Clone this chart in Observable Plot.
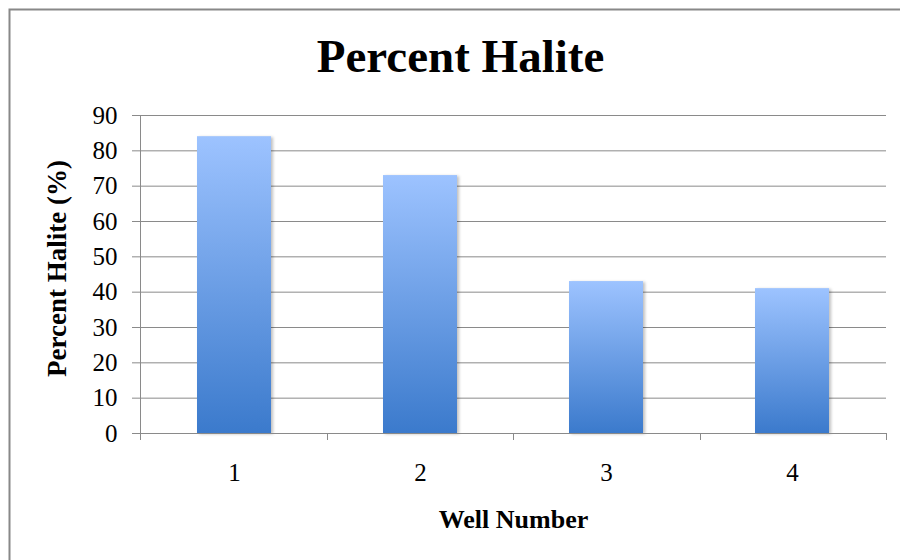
<!DOCTYPE html>
<html><head><meta charset="utf-8">
<script src="https://cdn.jsdelivr.net/npm/d3@7"></script>
<script src="https://cdn.jsdelivr.net/npm/@observablehq/plot@0.6"></script>
<style>
body{margin:0;background:#fff;}
#chart svg g[aria-label="bar"] rect{filter:drop-shadow(2px 1px 1.5px rgba(0,0,0,0.25));}
</style></head><body><div id="chart"></div>
<script>
const wells = ["1", "2", "3", "4"];
const halite = [84, 73, 43, 41];
const yTicks = [0, 10, 20, 30, 40, 50, 60, 70, 80, 90];
const titleText = "Percent Halite";
const yLabelText = "Percent Halite (%)";
const xLabelText = "Well Number";

const data = wells.map((w, i) => ({well: w, value: halite[i]}));
const GRID = "#8a8a8a";
const FONT = "'Liberation Serif', 'Times New Roman', serif";

const defsMark = () => {
  const g = d3.create("svg:g");
  const grad = g.append("defs").append("linearGradient")
    .attr("id", "barGrad").attr("x1", 0).attr("y1", 0).attr("x2", 0).attr("y2", 1);
  grad.append("stop").attr("offset", "0%").attr("stop-color", "#9dc3ff");
  grad.append("stop").attr("offset", "100%").attr("stop-color", "#3b7acc");
  return g.node();
};

const borderMark = (index, scales, values, dims) => {
  return d3.create("svg:rect")
    .attr("x", 9.5).attr("y", 9.5)
    .attr("width", dims.width).attr("height", dims.height)
    .attr("fill", "none").attr("stroke", "#888").attr("stroke-width", 2)
    .node();
};

const axisLines = (index, scales, values, dims) => {
  const {marginLeft, marginRight, marginTop, marginBottom, width, height} = dims;
  const g = d3.create("svg:g").attr("stroke", GRID).attr("stroke-width", 1);
  const left = marginLeft, right = width - marginRight, bottom = height - marginBottom;
  g.append("line").attr("x1", left + 0.5).attr("x2", left + 0.5)
    .attr("y1", marginTop).attr("y2", bottom + 7);
  const n = wells.length, step = (right - left) / n;
  for (let i = 0; i <= n; i++) {
    const x = Math.round(left + i * step) + 0.5;
    g.append("line").attr("x1", x).attr("x2", x).attr("y1", bottom).attr("y2", bottom + 7);
  }
  return g.node();
};

const chart = Plot.plot({
  width: 900,
  height: 560,
  marginLeft: 140,
  marginRight: 14,
  marginTop: 115,
  marginBottom: 127,
  style: {fontFamily: FONT, background: "#fff", color: "#000"},
  x: {domain: wells, paddingInner: 0.6, paddingOuter: 0.3, label: null},
  y: {domain: [0, 90], label: null},
  marks: [
    defsMark,
    borderMark,
    Plot.ruleY(yTicks.filter(d => d > 0), {stroke: GRID, strokeOpacity: 1}),
    Plot.barY(data, {x: "well", y: "value", fill: "url(#barGrad)"}),
    Plot.ruleY([0], {stroke: GRID, strokeOpacity: 1}),
    axisLines,
    Plot.axisY(yTicks, {tickSize: 8, tickPadding: 15, stroke: GRID, strokeOpacity: 1, fontSize: 25, fill: "#000", label: null}),
    Plot.axisX({tickSize: 0, tickPadding: 30, fontSize: 25, fill: "#000", label: null}),
    Plot.text([titleText], {frameAnchor: "top", dx: -53, dy: -77, fontSize: 47, fontWeight: "bold", fill: "#000"}),
    Plot.text([yLabelText], {frameAnchor: "left", textAnchor: "middle", rotate: -90, dx: -83, dy: -6, fontSize: 27, fontWeight: "bold", fill: "#000"}),
    Plot.text([xLabelText], {frameAnchor: "bottom", dy: 94, fontSize: 26, fontWeight: "bold", fill: "#000"})
  ]
});
document.getElementById("chart").append(chart);
</script></body></html>
